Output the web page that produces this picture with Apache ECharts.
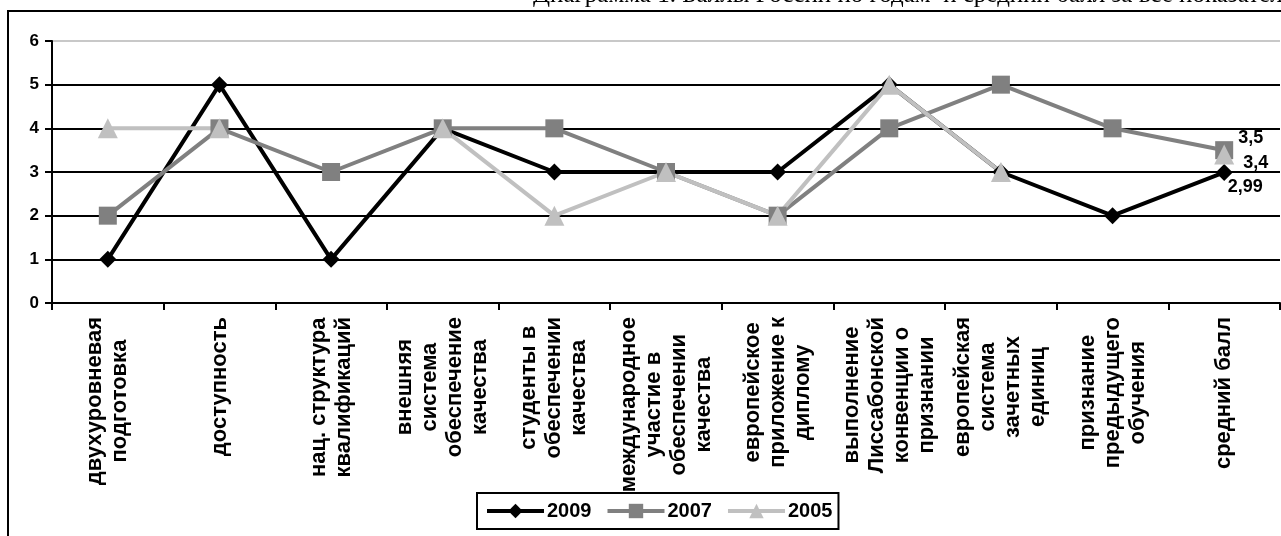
<!DOCTYPE html>
<html>
<head>
<meta charset="utf-8">
<script src="https://cdn.jsdelivr.net/npm/echarts@6/dist/echarts.min.js"></script>
<style>
html,body{margin:0;padding:0;background:#fff;}
#chart{width:1281px;height:536px;}
</style>
</head>
<body>
<div id="chart"></div>
<script>
const categories = [
  "двухуровневая\nподготовка",
  "доступность",
  "нац. структура\nквалификаций",
  "внешняя\nсистема\nобеспечение\nкачества",
  "студенты в\nобеспечении\nкачества",
  "международное\nучастие в\nобеспечении\nкачества",
  "европейское\nприложение к\nдиплому",
  "выполнение\nЛиссабонской\nконвенции о\nпризнании",
  "европейская\nсистема\nзачетных\nединиц",
  "признание\nпредыдущего\nобучения",
  "средний балл"
];
const s2009 = [1, 5, 1, 4, 3, 3, 3, 5, 3, 2, 2.99];
const s2007 = [2, 4, 3, 4, 4, 3, 2, 4, 5, 4, 3.5];
const s2005 = [4, 4, null, 4, 2, 3, 2, 5, 3, null, 3.4];
const yTicks = [0, 1, 2, 3, 4, 5, 6];
const titleText = "Диаграмма 1. Баллы России по годам  и средний балл за все показатели";

const FONT = "'Liberation Sans', Arial, sans-serif";
const fmt = v => String(v).replace('.', ',');

const chart = echarts.init(document.getElementById('chart'), null, {renderer: 'canvas'});

function mkSeries(name, data, color, symbol, size, labelOffset) {
  return {
    name: name,
    type: 'line',
    data: data.map((v, i) => {
      if (i === data.length - 1) {
        return {
          value: v,
          label: {
            show: true, position: 'right', offset: labelOffset,
            formatter: p => fmt(p.value),
            color: '#000', fontSize: 18, fontWeight: 'bold', fontFamily: FONT
          }
        };
      }
      return v;
    }),
    connectNulls: false,
    symbol: symbol,
    symbolSize: size,
    showAllSymbol: true,
    lineStyle: {color: color, width: 4},
    itemStyle: {color: color, borderWidth: 0},
    emphasis: {disabled: true},
    animation: false
  };
}

const option = {
  animation: false,
  backgroundColor: '#fff',
  grid: {left: 52, right: 1, top: 41, bottom: 233, containLabel: false},
  xAxis: {
    type: 'category',
    data: categories,
    boundaryGap: true,
    axisLine: {show: true, lineStyle: {color: '#000', width: 2}},
    axisTick: {show: true, length: 7, inside: false, lineStyle: {color: '#000', width: 2}, alignWithLabel: false},
    axisLabel: {
      interval: 0, rotate: 90, margin: 14,
      color: '#000', fontSize: 22, fontWeight: 'bold', fontFamily: FONT,
      formatter: v => v.split('\n').map(s => '{c|' + s + '}').join('\n'),
      rich: {c: {align: 'center', fontSize: 22, fontWeight: 'bold', fontFamily: FONT, lineHeight: 25, color: '#000'}}
    },
    splitLine: {show: false}
  },
  yAxis: {
    type: 'value',
    min: 0, max: 6, interval: 1,
    axisLine: {show: true, lineStyle: {color: '#000', width: 2}},
    axisTick: {show: true, length: 7, lineStyle: {color: '#000', width: 2}},
    axisLabel: {
      color: '#000', fontSize: 17, fontWeight: 'bold', fontFamily: FONT, margin: 13,
      formatter: v => yTicks.includes(v) ? String(v) : ''
    },
    splitLine: {show: true, lineStyle: {color: ['#000', '#000', '#000', '#000', '#000', '#000', '#c8c8c8'], width: 2}}
  },
  legend: {
    data: ['2009', '2007', '2005'],
    left: 477, top: 493,
    orient: 'horizontal',
    itemWidth: 57, itemHeight: 18, itemGap: 14,
    padding: [8, 6, 8, 8],
    borderColor: '#000', borderWidth: 2, backgroundColor: '#fff',
    selectedMode: false,
    lineStyle: {width: 4},
    textStyle: {color: '#000', fontSize: 20, fontWeight: 'bold', fontFamily: FONT, padding: [0, 0, 0, -2]}
  },
  graphic: [
    {type: 'rect', shape: {x: 8, y: 11, width: 1300, height: 600}, style: {fill: 'none', stroke: '#000', lineWidth: 2}, z: 100, silent: true},
    {type: 'text', x: 533, y: 8, style: {text: titleText, fill: '#000', font: "25px 'Liberation Serif', 'Times New Roman', serif", verticalAlign: 'bottom', align: 'left'}, z: 100, silent: true}
  ],
  series: [
    mkSeries('2009', s2009, '#000000', 'diamond', 17, [-10, 15]),
    mkSeries('2007', s2007, '#808080', 'rect', 18, [0, -12]),
    mkSeries('2005', s2005, '#c0c0c0', 'triangle', 20, [4, 8])
  ]
};
chart.setOption(option);
</script>
</body>
</html>
